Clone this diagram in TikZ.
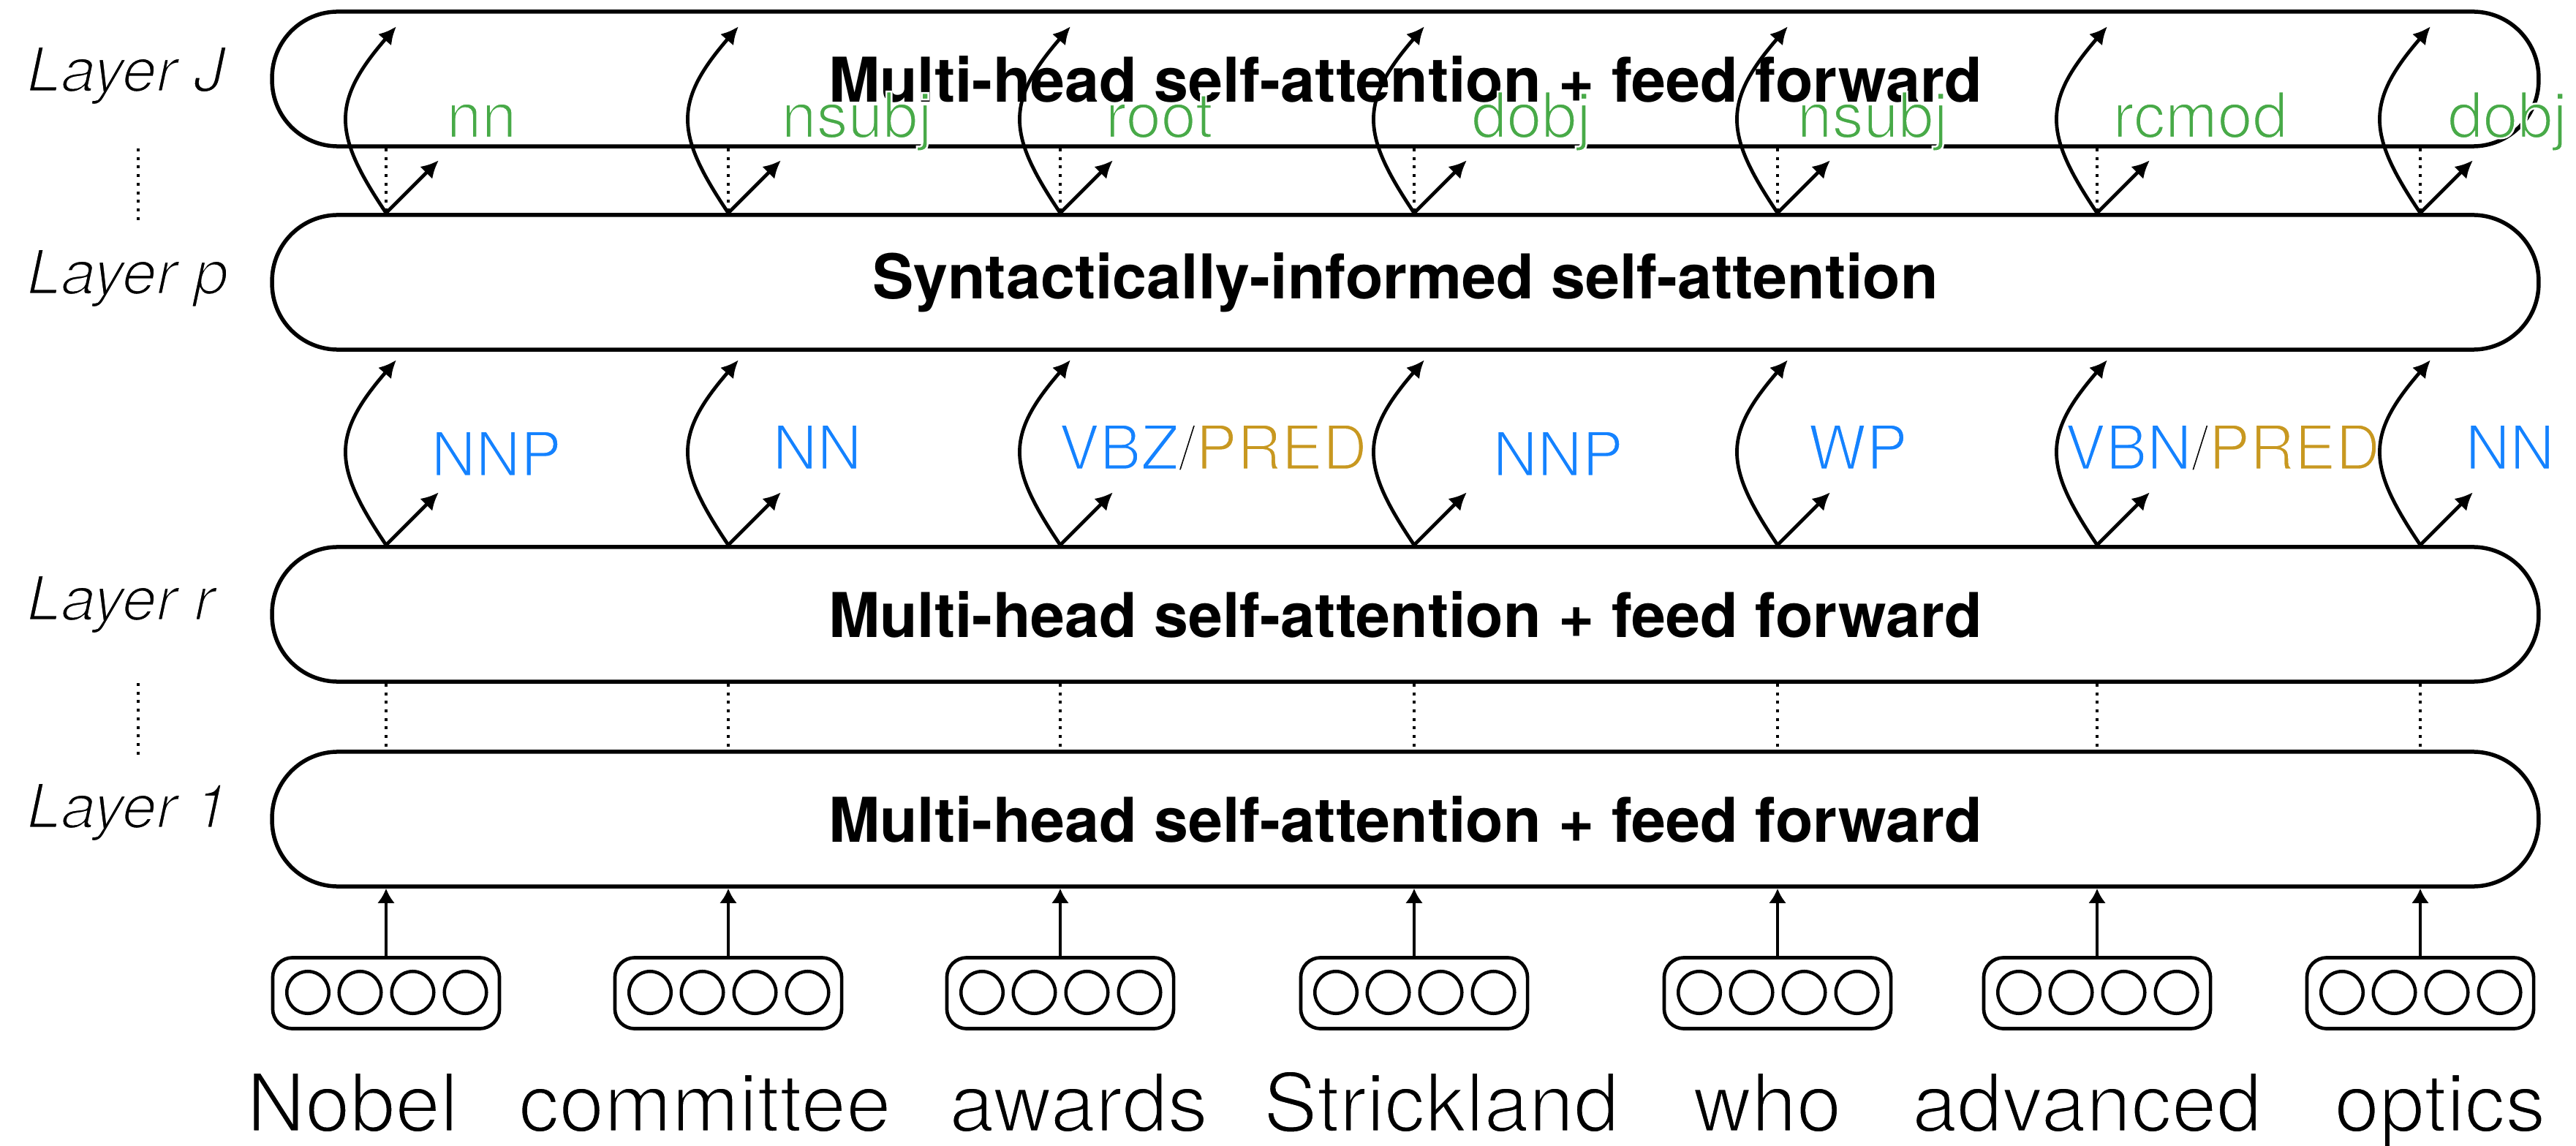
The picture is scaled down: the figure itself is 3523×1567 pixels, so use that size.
\documentclass[tikz,border=0pt]{standalone}
\usepackage{fontspec}
\setmainfont{TeX Gyre Heros}
\usetikzlibrary{arrows.meta,shapes.geometric}
\definecolor{depgreen}{RGB}{72,170,72}
\definecolor{posblue}{RGB}{20,130,255}
\definecolor{predgold}{RGB}{200,152,32}
% thinner strokes: fill the glyphs, then stroke their outline in white
\newcommand{\lighttext}[2][0.75]{\special{pdf:literal direct 1 1 1 RG #1 w 2 Tr}#2\special{pdf:literal direct 0 Tr}}
\begin{document}
\begin{tikzpicture}[x=0.01cm,y=-0.01cm,
  layerbox/.style={draw,line width=0.055cm,rounded corners=0.9cm,minimum width=30.98cm,minimum height=1.84cm,inner sep=0pt,font=\fontsize{24}{28}\selectfont\bfseries},
  tokbox/.style={draw,line width=0.047cm,rounded corners=0.27cm,minimum width=3.10cm,minimum height=0.97cm,inner sep=0pt},
  ell/.style={draw,circle,line width=0.045cm,minimum size=0.575cm,inner sep=0pt},
  arr/.style={line width=0.048cm,-{Latex[length=0.24cm,width=0.24cm]}},
  varr/.style={line width=0.042cm,-{Latex[length=0.2cm,width=0.24cm]}},
  dotline/.style={line width=0.042cm,dash pattern=on 0.04cm off 0.077cm},
  laylabel/.style={anchor=base west,inner sep=0pt,font=\fontsize{24}{28}\selectfont\itshape},
  deplabel/.style={anchor=base west,inner sep=0pt,text=depgreen,font=\fontsize{24.5}{28}\selectfont},
  poslabel/.style={anchor=base west,inner sep=0pt,text=posblue,font=\fontsize{24}{28}\selectfont},
  wordlabel/.style={anchor=base,inner sep=0pt,font=\fontsize{31.5}{36}\selectfont}]
\fill[white] (0,0) rectangle (3523,1567);
\useasboundingbox (0,0) rectangle (3523,1567);

% layer boxes
\node[layerbox] (LJ) at (1922,108) {Multi-head self-attention + feed forward};
\node[layerbox] (Lp) at (1922,386) {Syntactically-informed self-attention};
\node[layerbox] (Lr) at (1922,840) {Multi-head self-attention + feed forward};
\node[layerbox] (L1) at (1922,1120) {Multi-head self-attention + feed forward};

% layer labels
\node[laylabel] (labJ) at (36,125) {\lighttext[0.8]{Layer J}};
\node[laylabel] (labp) at (36,402) {\lighttext[0.8]{Layer p}};
\node[laylabel] (labr) at (36,848) {\lighttext[0.8]{Layer r}};
\node[laylabel] (lab1) at (36,1132) {\lighttext[0.8]{Layer 1}};
\coordinate (dA1) at (189,203);
\coordinate (dA2) at (189,302);
\coordinate (dB1) at (189,934);
\coordinate (dB2) at (189,1032);
\draw[dotline] (dA1) -- (dA2);
\draw[dotline] (dB1) -- (dB2);

% columns
\foreach \i/\x in {1/528,2/996,3/1450,4/1934,5/2431,6/2868,7/3310} {
  \coordinate (c\i) at (\x,0);
  \node[tokbox] (t\i) at (\x,1358) {};
  \foreach \j/\o in {1/-107,2/-35.5,3/36.5,4/108.5}
    \node[ell] (e\i\j) at ({\x+\o},1357) {};
  \draw[varr] (t\i.north) -- (L1.south -| c\i);
  \draw[dotline] (Lr.south -| c\i) -- (L1.north -| c\i);
  \draw[dotline] (LJ.south -| c\i) -- (Lp.north -| c\i);
  % upper arrows (from layer p)
  \path (Lp.north -| c\i) coordinate (pb\i) ++(72,-72) coordinate (ps\i);
  \path (pb\i) ++(14,-255) coordinate (pc\i);
  \draw[arr] (pb\i) -- (ps\i);
  \draw[arr] (pb\i) .. controls +(-72,-107) and +(-90,104) .. (pc\i);
  % lower arrows (from layer r)
  \path (Lr.north -| c\i) coordinate (rb\i) ++(72,-72) coordinate (rs\i);
  \path (rb\i) ++(14,-253) coordinate (rc\i);
  \draw[arr] (rb\i) -- (rs\i);
  \draw[arr] (rb\i) .. controls +(-72,-107) and +(-90,104) .. (rc\i);
}

% dependency labels
\foreach \t/\x [count=\k] in {nn/610,nsubj/1068,root/1511,dobj/2012,nsubj/2457,rcmod/2889,dobj/3347}
  \node[deplabel] (dep\k) at (\x,188) {\lighttext[0.7]{\t}};

% POS labels
\node[poslabel] (pos1) at (589,651) {\lighttext{NNP}};
\node[poslabel] (pos2) at (1056,642) {\lighttext{NN}};
\node[poslabel] (pos3) at (1447,642) {\lighttext{VBZ}\textcolor{black}{\lighttext{/}}\textcolor{predgold}{\lighttext{PRED}}};
\node[poslabel] (pos4) at (2041,651) {\lighttext{NNP}};
\node[poslabel] (pos5) at (2472,642) {\lighttext{WP}};
\node[poslabel] (pos6) at (2823,642) {\lighttext{VBN}\textcolor{black}{\lighttext{/}}\textcolor{predgold}{\lighttext{PRED}}};
\node[poslabel] (pos7) at (3371,642) {\lighttext{NN}};

% words
\node[wordlabel] (w1) at (482,1547) {\lighttext[0.85]{Nobel}};
\node[wordlabel] (w2) at (964,1547) {\lighttext[0.85]{committee}};
\node[wordlabel] (w3) at (1475,1547) {\lighttext[0.85]{awards}};
\node[wordlabel] (w4) at (1971,1547) {\lighttext[0.85]{Strickland}};
\node[wordlabel] (w5) at (2417,1547) {\lighttext[0.85]{who}};
\node[wordlabel] (w6) at (2854,1547) {\lighttext[0.85]{advanced}};
\node[wordlabel] (w7) at (3337,1547) {\lighttext[0.85]{optics}};
\end{tikzpicture}
\end{document}
